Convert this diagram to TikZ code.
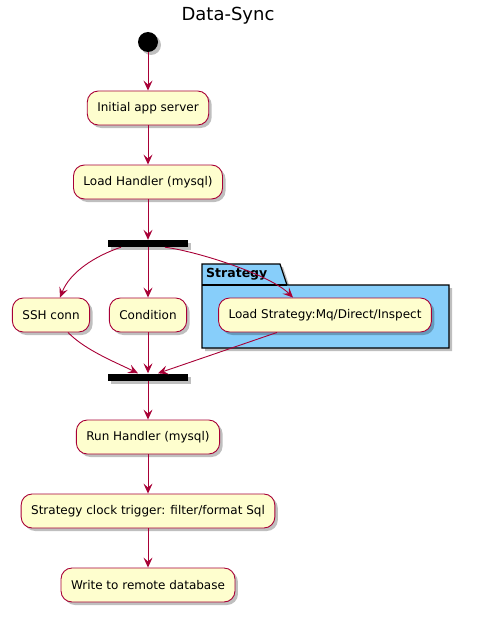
\documentclass[tikz,border=0pt]{standalone}
\usepackage{fontspec}
\setmainfont{DejaVu Sans}
\usetikzlibrary{arrows.meta, shadows}
\definecolor{actfill}{HTML}{FEFECE}
\definecolor{actline}{HTML}{A80036}
\definecolor{pkgfill}{HTML}{87CEFA}

\begin{document}
\begin{tikzpicture}[x=1pt, y=-1pt, >={Stealth[length=10pt, width=9pt, inset=4pt]},
	every action/.style={draw=actline, fill=actfill, line width=0.9pt, rounded corners=11pt,
		minimum height=34pt, inner xsep=10pt, font=\fontsize{12}{14}\selectfont,
		drop shadow={shadow xshift=3pt, shadow yshift=-3pt, fill=black, opacity=0.25}},
	every bar/.style={fill=black, minimum width=80pt, minimum height=7pt, inner sep=0pt,
		drop shadow={shadow xshift=3pt, shadow yshift=-3pt, fill=black, opacity=0.25}},
	flow/.style={->, draw=actline, line width=0.9pt}]

	\useasboundingbox (0,0) rectangle (480,623);

	\node [font=\fontsize{18}{21}\selectfont] (title) at (228,16) {Data-Sync};

	% package
	\draw [fill=pkgfill, line width=1.2pt,
		drop shadow={shadow xshift=3pt, shadow yshift=-3pt, fill=black, opacity=0.25}]
		(202,285) -- (202,264) -- (280,264) -- (287,285) -- (449,285) -- (449,348) -- (202,348) -- cycle;
	\draw [line width=1.2pt] (202,285) -- (287,285);
	\node [anchor=west, font=\bfseries\fontsize{12.5}{14}\selectfont, inner sep=0pt] (pkg) at (206,274) {Strategy};

	\node [circle, fill=black, minimum size=20pt, inner sep=0pt,
		drop shadow={shadow xshift=3pt, shadow yshift=-3pt, fill=black, opacity=0.25}] (start) at (148,42) {};

	\node [every action/.try] (init) at (148,108) {Initial app server};
	\node [every action/.try] (load) at (148,182) {Load Handler (mysql)};
	\node [every bar/.try] (fork) at (148,243.5) {};
	\node [every action/.try] (ssh) at (51,315) {SSH conn};
	\node [every action/.try] (cond) at (148,315) {Condition};
	\node [every action/.try] (strat) at (325,315) {Load Strategy:Mq/Direct/Inspect};
	\node [every bar/.try] (join) at (148,377) {};
	\node [every action/.try] (run) at (148,437) {Run Handler (mysql)};
	\node [every action/.try] (clock) at (148,511) {Strategy clock trigger: filter/format Sql};
	\node [every action/.try] (write) at (148,585) {Write to remote database};

	\draw [flow] (start) -- (init);
	\draw [flow] (init) -- (load);
	\draw [flow] (load) -- (fork);

	\draw [flow] ([xshift=-27pt]fork.south) .. controls (95,256) and (70,272) .. ([xshift=9pt]ssh.north);
	\draw [flow] (fork) -- (cond);
	\draw [flow] ([xshift=17pt]fork.south) .. controls (200,252) and (270,275) .. ([xshift=-32pt]strat.north);

	\draw [flow] ([xshift=17pt]ssh.south) .. controls (85,350) and (115,362) .. ([xshift=-10pt]join.north);
	\draw [flow] (cond) -- (join);
	\draw [flow] ([xshift=-48pt]strat.south) -- ([xshift=10pt]join.north);

	\draw [flow] (join) -- (run);
	\draw [flow] (run) -- (clock);
	\draw [flow] (clock) -- (write);
\end{tikzpicture}
\end{document}
